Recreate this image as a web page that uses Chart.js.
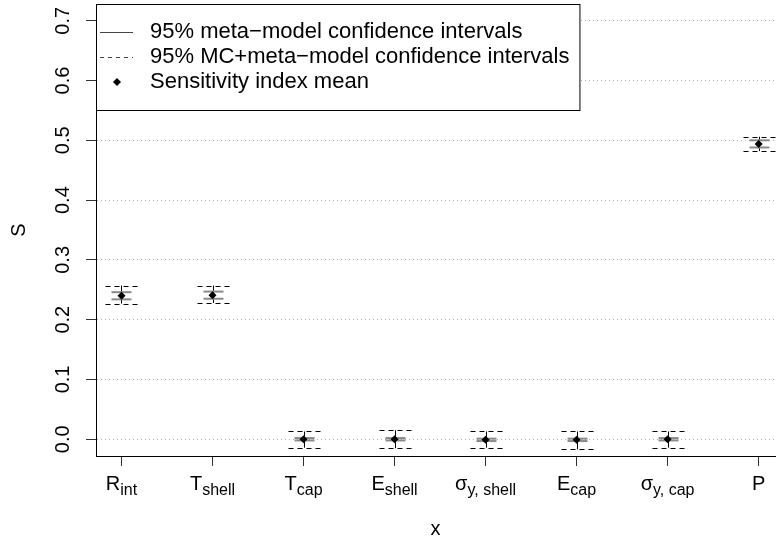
<!DOCTYPE html>
<html>
<head>
<meta charset="utf-8">
<script src="https://cdn.jsdelivr.net/npm/chart.js@4/dist/chart.umd.min.js"></script>
<style>
  body { margin: 0; background: #fff; }
  canvas { display: block; }
</style>
</head>
<body>
<canvas id="sensChart" width="779" height="543"></canvas>
<script>
// x categories: main symbol + subscript
const catMain = ['R', 'T', 'T', 'E', 'σ', 'E', 'σ', 'P'];
const catSub = ['int', 'shell', 'cap', 'shell', 'y, shell', 'cap', 'y, cap', ''];

// sensitivity index mean
const meanS = [0.240, 0.241, 0.000, 0.000, -0.001, -0.001, 0.000, 0.494];

// 95% meta-model confidence intervals
const metaLo = [0.234, 0.235, -0.002, -0.002, -0.003, -0.003, -0.002, 0.488];
const metaHi = [0.246, 0.247, 0.002, 0.002, 0.001, 0.001, 0.002, 0.500];

// 95% MC+meta-model confidence intervals
const mcLo = [0.227, 0.228, -0.014, -0.015, -0.014, -0.017, -0.014, 0.482];
const mcHi = [0.257, 0.257, 0.013, 0.015, 0.013, 0.013, 0.013, 0.506];

const yTicks = [0, 0.1, 0.2, 0.3, 0.4, 0.5, 0.6, 0.7];

const legendItems = [
    '95% meta\u2212model confidence intervals',
    '95% MC+meta\u2212model confidence intervals',
    'Sensitivity index mean'
];

const FONT = '"Liberation Sans", Arial, Helvetica, sans-serif';

/**
 * Draws the two confidence interval bars for each category.
 */
const errorBars = {
    id: 'errorBars',
    beforeDatasetsDraw(chart) {
        const { ctx, scales: { x, y } } = chart;
        ctx.save();
        meanS.forEach((m, i) => {
            const px = Math.round(x.getPixelForValue(i + 1)) + 0.5;
            // vertical line over the full MC interval
            ctx.strokeStyle = '#000';
            ctx.lineWidth = 1;
            ctx.setLineDash([]);
            ctx.beginPath();
            ctx.moveTo(px, y.getPixelForValue(mcLo[i]));
            ctx.lineTo(px, y.getPixelForValue(mcHi[i]));
            ctx.stroke();

            // meta-model caps, solid grey
            ctx.strokeStyle = '#8a8a8a';
            ctx.lineWidth = 2;
            [metaLo[i], metaHi[i]].forEach(v => {
                const py = y.getPixelForValue(v);
                ctx.beginPath();
                ctx.moveTo(px - 10, py);
                ctx.lineTo(px + 10, py);
                ctx.stroke();
            });

            // MC+meta-model caps, dashed
            ctx.strokeStyle = '#000';
            ctx.lineWidth = 1;
            ctx.setLineDash([5, 4]);
            [mcLo[i], mcHi[i]].forEach(v => {
                const py = Math.round(y.getPixelForValue(v)) + 0.5;
                ctx.beginPath();
                ctx.moveTo(px - 16, py);
                ctx.lineTo(px + 16, py);
                ctx.stroke();
            });
            ctx.setLineDash([]);
        });
        ctx.restore();
    }
};

/**
 * Tick labels with subscripts on the x axis, plus the boxed legend.
 */
const labelsAndLegend = {
    id: 'labelsAndLegend',
    afterDraw(chart) {
        const { ctx, scales: { x } } = chart;
        ctx.save();
        ctx.fillStyle = '#000';
        ctx.textBaseline = 'alphabetic';
        catMain.forEach((m, i) => {
            const px = x.getPixelForValue(i + 1);
            ctx.font = '20px ' + FONT;
            const wMain = ctx.measureText(m).width;
            ctx.font = '16px ' + FONT;
            const wSub = ctx.measureText(catSub[i]).width;
            const left = px - (wMain + wSub) / 2;
            ctx.font = '20px ' + FONT;
            ctx.textAlign = 'left';
            ctx.fillText(m, left, 490);
            ctx.font = '16px ' + FONT;
            ctx.fillText(catSub[i], left + wMain, 495);
        });

        // legend
        const boxL = chart.chartArea.left;
        const boxT = chart.chartArea.top;
        const textX = boxL + 54;
        ctx.font = '22px ' + FONT;
        const maxW = Math.max(...legendItems.map(t => ctx.measureText(t).width));
        const boxW = textX - boxL + maxW + 10;
        const boxH = 106;
        ctx.fillStyle = '#fff';
        ctx.fillRect(boxL, boxT, boxW, boxH);
        ctx.strokeStyle = '#000';
        ctx.lineWidth = 1;
        ctx.strokeRect(boxL + 0.5, boxT + 0.5, boxW, boxH);

        const rows = [boxT + 28, boxT + 53, boxT + 78];
        ctx.strokeStyle = '#444';
        ctx.beginPath();
        ctx.moveTo(boxL + 4, rows[0] + 0.5);
        ctx.lineTo(boxL + 37, rows[0] + 0.5);
        ctx.stroke();
        ctx.setLineDash([4, 4]);
        ctx.beginPath();
        ctx.moveTo(boxL + 4, rows[1] + 0.5);
        ctx.lineTo(boxL + 37, rows[1] + 0.5);
        ctx.stroke();
        ctx.setLineDash([]);
        ctx.fillStyle = '#000';
        ctx.beginPath();
        ctx.moveTo(boxL + 21, rows[2] - 4);
        ctx.lineTo(boxL + 25, rows[2]);
        ctx.lineTo(boxL + 21, rows[2] + 4);
        ctx.lineTo(boxL + 17, rows[2]);
        ctx.closePath();
        ctx.fill();

        ctx.textBaseline = 'middle';
        ctx.textAlign = 'left';
        legendItems.forEach((t, i) => ctx.fillText(t, textX, rows[i]));
        ctx.restore();
    }
};

document.addEventListener('DOMContentLoaded', () => {
    const ctx = document.getElementById('sensChart').getContext('2d');
    new Chart(ctx, {
        type: 'scatter',
        data: {
            datasets: [{
                label: 'Sensitivity index mean',
                data: meanS.map((v, i) => ({ x: i + 1, y: v })),
                pointStyle: 'rectRot',
                pointRadius: 4,
                backgroundColor: '#000',
                borderColor: '#000',
                borderWidth: 0
            }]
        },
        options: {
            responsive: false,
            animation: false,
            layout: { padding: { top: 4, left: 0, right: 0, bottom: 0 } },
            plugins: {
                legend: { display: false },
                tooltip: { enabled: false }
            },
            scales: {
                x: {
                    type: 'linear',
                    min: 0.72,
                    max: 8.18,
                    afterBuildTicks: s => { s.ticks = catMain.map((c, i) => ({ value: i + 1 })); },
                    afterFit: s => { s.height = 87; s.paddingLeft = 0; s.paddingRight = 0; },
                    grid: { drawOnChartArea: false, tickLength: 10, tickColor: '#333', tickWidth: 1 },
                    border: { color: '#000', width: 1 },
                    ticks: { callback: () => '', autoSkip: false, maxRotation: 0 },
                    title: {
                        display: true, text: 'x', color: '#000',
                        font: { size: 20, family: FONT },
                        padding: { top: 0, bottom: 2 }
                    }
                },
                y: {
                    min: -0.028,
                    max: 0.728,
                    afterBuildTicks: s => { s.ticks = yTicks.map(v => ({ value: v })); },
                    afterFit: s => { s.width = 96; s.paddingTop = 0; s.paddingBottom = 0; },
                    grid: {
                        color: '#b0b0b0', lineWidth: 1,
                        tickLength: 10, tickColor: '#333', tickWidth: 1
                    },
                    border: { color: '#000', width: 1, dash: [1, 3] },
                    ticks: {
                        callback: v => v.toFixed(1),
                        color: '#000',
                        font: { size: 20, family: FONT },
                        minRotation: 90, maxRotation: 90,
                        crossAlign: 'center',
                        padding: 9
                    },
                    title: {
                        display: true, text: 'S', color: '#000',
                        font: { size: 20, family: FONT },
                        padding: { top: 7, bottom: 0 }
                    }
                }
            }
        },
        plugins: [errorBars, labelsAndLegend]
    });
});
</script>
</body>
</html>
